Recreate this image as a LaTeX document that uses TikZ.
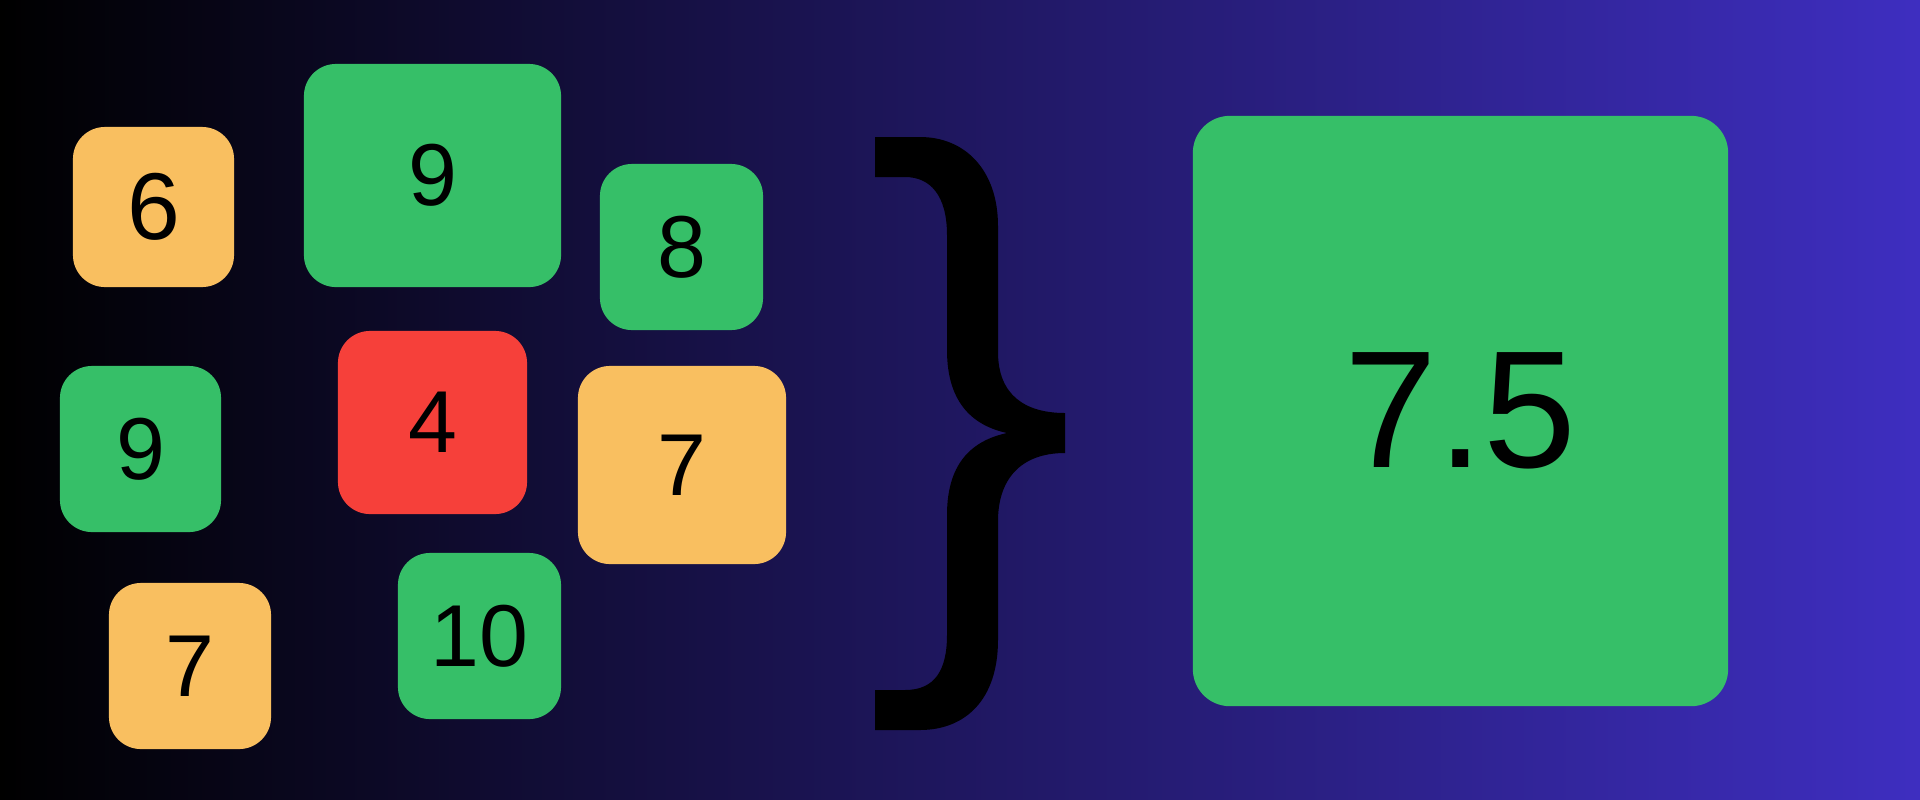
\documentclass[tikz,border=0pt]{standalone}
\usepackage{fontspec}
\setmainfont{Liberation Sans}
\usepackage{xcolor}
\usepackage{tikz}
\definecolor{score-good}{RGB}{54,191,104}
\definecolor{score-fair}{RGB}{249,191,96}
\definecolor{score-poor}{RGB}{246,64,58}
\definecolor{bg-left}{RGB}{0,0,0}
\definecolor{bg-right}{RGB}{62,46,192}

\begin{document}
\begin{tikzpicture}[
    x=0.01cm, y=-0.01cm,
    every node/.style={font=\fontsize{25}{30}\selectfont, text=black},
    tile/.style={rectangle, rounded corners=0.32cm, inner sep=0pt},
    good/.style={tile, fill=score-good},
    fair/.style={tile, fill=score-fair},
    poor/.style={tile, fill=score-poor},
  ]
    \shade[left color=bg-left, right color=bg-right] (0,0) rectangle (1920,799);
    \useasboundingbox (0,0) rectangle (1920,799);

    \node[fair, minimum width=1.61cm, minimum height=1.60cm,
          font=\fontsize{27}{32}\selectfont] (q6) at (153.5,207) {6};
    \node[good, minimum width=2.57cm, minimum height=2.23cm] (q9a) at (432.5,175.5) {9};
    \node[good, minimum width=1.63cm, minimum height=1.66cm] (q8) at (681.5,247) {8};
    \node[good, minimum width=1.61cm, minimum height=1.66cm] (q9b) at (140.5,449) {9};
    \node[poor, minimum width=1.89cm, minimum height=1.83cm] (q4) at (432.5,422.5) {4};
    \node[fair, minimum width=2.08cm, minimum height=1.98cm] (q7a) at (682,465) {7};
    \node[fair, minimum width=1.62cm, minimum height=1.66cm] (q7b) at (190,666) {7};
    \node[good, minimum width=1.63cm, minimum height=1.66cm] (q10) at (479.5,636) {10};

    \fill[black] (875,137) -- (920,137) .. controls (965,137) and (998,170) .. (998,226)
      -- (998,352) .. controls (998,395) and (1025,413) .. (1065,413)
      -- (1065,453) .. controls (1020,453) and (998,480) .. (998,521)
      -- (998,640) .. controls (998,700) and (965,730) .. (920,730)
      -- (875,730) -- (875,690) -- (905,690) .. controls (935,690) and (947,670) .. (947,635)
      -- (947,515) .. controls (947,460) and (975,440) .. (1007,433)
      .. controls (975,426) and (947,405) .. (947,350)
      -- (947,235) .. controls (947,195) and (930,177) .. (905,177) -- (875,177) -- cycle;

    \node[good, rounded corners=0.37cm, minimum width=5.35cm, minimum height=5.90cm,
          font=\fontsize{47.5}{56}\selectfont] (mean) at (1460.5,411) {7.5};
  \end{tikzpicture}
\end{document}
